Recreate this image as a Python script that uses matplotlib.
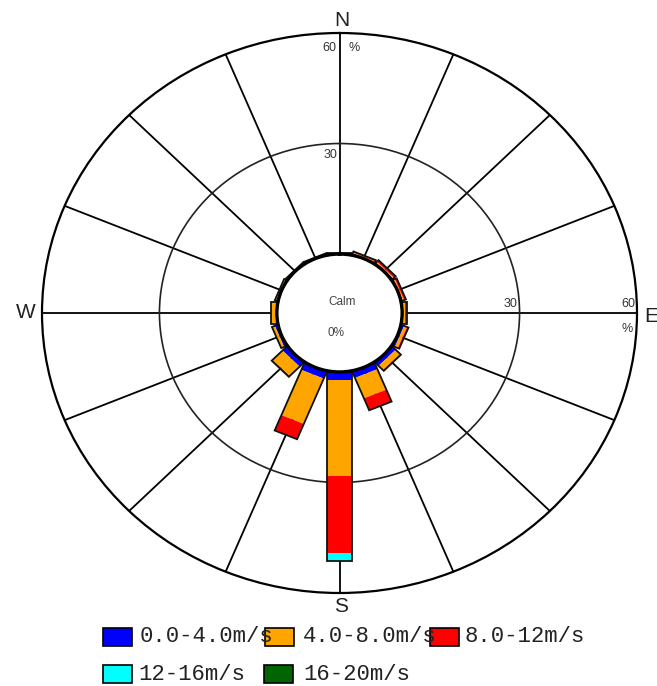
import numpy as np
import matplotlib
matplotlib.use("Agg")
import matplotlib.pyplot as plt
from matplotlib.patches import Rectangle
from matplotlib.ticker import NullFormatter

# Sixteen compass sectors, clockwise from north
directions = ["N", "NNE", "NE", "ENE", "E", "ESE", "SE", "SSE",
              "S", "SSW", "SW", "WSW", "W", "WNW", "NW", "NNW"]
speed_bins = ["0.0-4.0m/s", "4.0-8.0m/s", "8.0-12m/s", "12-16m/s", "16-20m/s"]
bin_colors = ["#0000FF", "#FFA500", "#FF0000", "#00FFFF", "#006400"]

# Frequency (%) of each speed class per direction
freq_0_4 = [0.3, 0.3, 0.3, 0.3, 0.3, 0.6, 1.2, 1.8, 2.2, 2.0, 1.5, 0.6, 0.3, 0.3, 0.3, 0.3]
freq_4_8 = [0.0, 0.2, 0.3, 0.3, 0.5, 0.8, 1.6, 6.0, 26.0, 13.3, 3.6, 0.8, 1.2, 0.3, 0.0, 0.0]
freq_8_12 = [0.0, 0.3, 0.6, 0.5, 0.5, 0.4, 0.3, 3.5, 21.0, 4.5, 0.3, 0.0, 0.0, 0.0, 0.0, 0.0]
freq_12_16 = [0.0, 0.0, 0.0, 0.0, 0.0, 0.0, 0.0, 0.0, 2.2, 0.0, 0.0, 0.0, 0.0, 0.0, 0.0, 0.0]
freq_16_20 = [0.0] * 16
calm_pct = "0%"

ring_max = 60
calm_radius = 16      # radius of the calm hole, in % units
half_width = 3.1      # half width of each bar, in % units

fig = plt.figure(figsize=(6.57, 6.86), dpi=100)
ax = fig.add_axes([42 / 657, 93 / 686, 595 / 657, 560 / 686], projection="polar")
ax.set_aspect("auto")
ax.set_theta_zero_location("N")
ax.set_theta_direction(-1)
ax.set_rlim(0, ring_max)
ax.set_rorigin(-calm_radius)

ax.set_xticks(np.deg2rad(np.arange(0, 360, 22.5)))
ax.set_yticks([30])
ax.xaxis.set_major_formatter(NullFormatter())
ax.yaxis.set_major_formatter(NullFormatter())
ax.tick_params(length=0)
ax.xaxis.grid(True, color="black", lw=1.3)
ax.yaxis.grid(True, color="#222222", lw=1.2)
ax.spines["polar"].set(color="black", lw=1.6)
ax.spines["inner"].set(color="black", lw=2.4)
ax.spines["inner"].set_zorder(5)


def bar_shape(theta, r0, r1):
    """Rectangle of constant width along direction theta between r0 and r1."""
    along = np.array([r0, r1, r1, r0]) + calm_radius
    side = np.array([-half_width, -half_width, half_width, half_width])
    return theta + np.arctan2(side, along), np.hypot(along, side) - calm_radius


stack = np.array([freq_0_4, freq_4_8, freq_8_12, freq_12_16, freq_16_20])
thetas = np.deg2rad(np.arange(16) * 22.5)
for i, th in enumerate(thetas):
    base = 0.0
    for j in range(len(speed_bins)):
        val = stack[j, i]
        if val <= 0:
            continue
        start = base if base > 0 else -2.0
        ax.fill(*bar_shape(th, start, base + val), color=bin_colors[j], lw=0, zorder=3)
        base += val
    if base > 0:
        ax.fill(*bar_shape(th, -2.0, base), facecolor="none", edgecolor="#111111",
                lw=1.3, zorder=4)

# ring labels
lab = dict(fontsize=9, family="Liberation Sans", color="#333333",
           textcoords="offset pixels", annotation_clip=False)
ax.annotate("30", xy=(0, 30), xytext=(-2, -5), ha="right", va="top", **lab)
ax.annotate("60", xy=(0, 60), xytext=(-3, -9), ha="right", va="top", **lab)
ax.annotate("%", xy=(0, 60), xytext=(9, -9), ha="left", va="top", **lab)
ax.annotate("30", xy=(np.pi / 2, 30), xytext=(-2, 3), ha="right", va="bottom", **lab)
ax.annotate("60", xy=(np.pi / 2, 60), xytext=(-2, 3), ha="right", va="bottom", **lab)
ax.annotate("%", xy=(np.pi / 2, 60), xytext=(-4, -10), ha="right", va="top", **lab)

# compass letters
card = dict(fontsize=15, family="Liberation Sans", color="#222222",
            xycoords="axes fraction", textcoords="offset pixels", annotation_clip=False)
ax.annotate("N", xy=(0.5, 1.0), xytext=(2, 13), ha="center", va="center", **card)
ax.annotate("S", xy=(0.5, 0.0), xytext=(2, -14), ha="center", va="center", **card)
ax.annotate("W", xy=(0.0, 0.5), xytext=(-16, 0), ha="center", va="center", **card)
ax.annotate("E", xy=(1.0, 0.5), xytext=(14, -3), ha="center", va="center", **card)

# calm text
ax.annotate("Calm", xy=(0.5, 0.5), xycoords="axes fraction", xytext=(3, 11),
            textcoords="offset pixels", ha="center", va="center",
            fontsize=8.5, family="Liberation Sans", color="#444444")
ax.annotate(calm_pct, xy=(0.5, 0.5), xycoords="axes fraction", xytext=(-3, -20),
            textcoords="offset pixels", ha="center", va="center",
            fontsize=8.5, family="Liberation Sans", color="#444444")

# legend
W, H = 657, 686
box_pos = [(103, 628), (265, 628), (430, 628), (103, 665), (264, 665)]
text_pos = [(140, 637), (303, 637), (465, 637), (138, 674), (303, 674)]
for (bx, by), (tx, ty), name, col in zip(box_pos, text_pos, speed_bins, bin_colors):
    fig.patches.append(Rectangle((bx / W, 1 - (by + 18) / H), 29 / W, 18 / H,
                                 transform=fig.transFigure, facecolor=col,
                                 edgecolor="black", lw=1.2))
    fig.text(tx / W, 1 - ty / H, name, ha="left", va="center", fontsize=16,
             family="Liberation Mono", color="#222222")

fig.savefig("out.png", dpi=100, facecolor="white")
